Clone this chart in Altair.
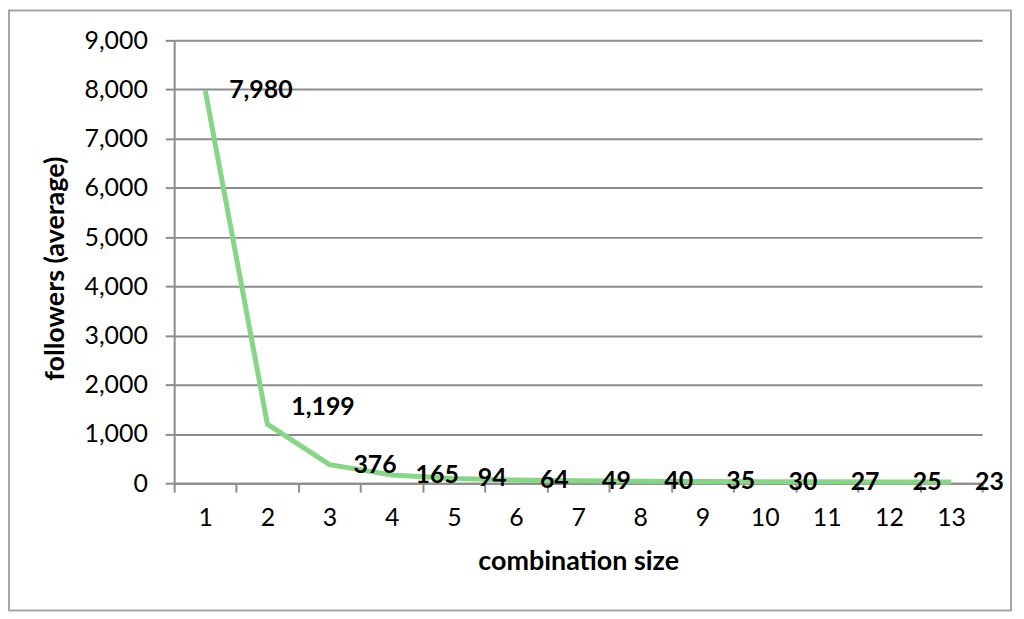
import altair as alt
import pandas as pd

sizes = list(range(1, 14))
followers = [7980, 1199, 376, 165, 94, 64, 49, 40, 35, 30, 27, 25, 23]

df = pd.DataFrame({"size": sizes, "followers": followers})

FONT = "Lato"
GRID = "#8c8c8c"

x_enc = alt.X(
    "size:O",
    scale=alt.Scale(type="band", paddingInner=0, paddingOuter=0),
    axis=alt.Axis(
        title="combination size",
        labelAngle=0,
        tickBand="extent",
        grid=False,
        domainColor=GRID,
        domainWidth=2,
        tickColor=GRID,
        tickWidth=2,
        tickSize=9,
        labelPadding=14,
        labelFont=FONT,
        labelFontSize=25,
        labelColor="#000000",
        titleFont=FONT,
        titleFontSize=27,
        titleFontWeight="bold",
        titleColor="#000000",
        titleX=406,
        titleY=79,
        titleBaseline="middle",
        titleAlign="center",
    ),
)
y_enc = alt.Y(
    "followers:Q",
    scale=alt.Scale(domain=[0, 9000], nice=False),
    axis=alt.Axis(
        title="followers (average)",
        values=list(range(0, 9001, 1000)),
        format=",d",
        grid=True,
        gridColor=GRID,
        gridWidth=2,
        domainColor=GRID,
        domainWidth=2,
        tickColor=GRID,
        tickWidth=2,
        tickSize=9,
        labelPadding=18,
        labelFont=FONT,
        labelFontSize=25,
        labelColor="#000000",
        titleFont=FONT,
        titleFontSize=27,
        titleFontWeight="bold",
        titleColor="#000000",
        titleAngle=270,
        titleX=-119,
        titleY=229,
        titleBaseline="middle",
        titleAlign="center",
    ),
)

base = alt.Chart(df)

line = base.mark_line(color="#86d686", strokeWidth=5).encode(x=x_enc, y=y_enc)

labels = base.transform_filter(alt.datum.size != 2).mark_text(
    align="left", baseline="middle", dx=24, font=FONT, fontSize=25,
    fontWeight="bold", color="#000000"
).encode(x=alt.X("size:O"), y=alt.Y("followers:Q"), text=alt.Text("followers:Q", format=",d"))

label2 = base.transform_filter(alt.datum.size == 2).mark_text(
    align="left", baseline="middle", dx=24, dy=-17, font=FONT, fontSize=25,
    fontWeight="bold", color="#000000"
).encode(x=alt.X("size:O"), y=alt.Y("followers:Q"), text=alt.Text("followers:Q", format=",d"))

border = alt.Chart(pd.DataFrame({"a": [0]})).mark_rect(
    filled=False, stroke="#a6a6a6", strokeWidth=2
).encode(x=alt.value(-166), x2=alt.value(841), y=alt.value(-30), y2=alt.value(573))

chart = alt.layer(border, line, labels, label2).properties(
    width=812,
    height=445,
    padding={"left": 167, "top": 31, "right": 34, "bottom": 134},
    autosize=alt.AutoSizeParams(type="none"),
    background="#ffffff",
).configure_view(strokeWidth=0)

chart.save("out.html", embed_options={"renderer": "svg", "actions": False})
